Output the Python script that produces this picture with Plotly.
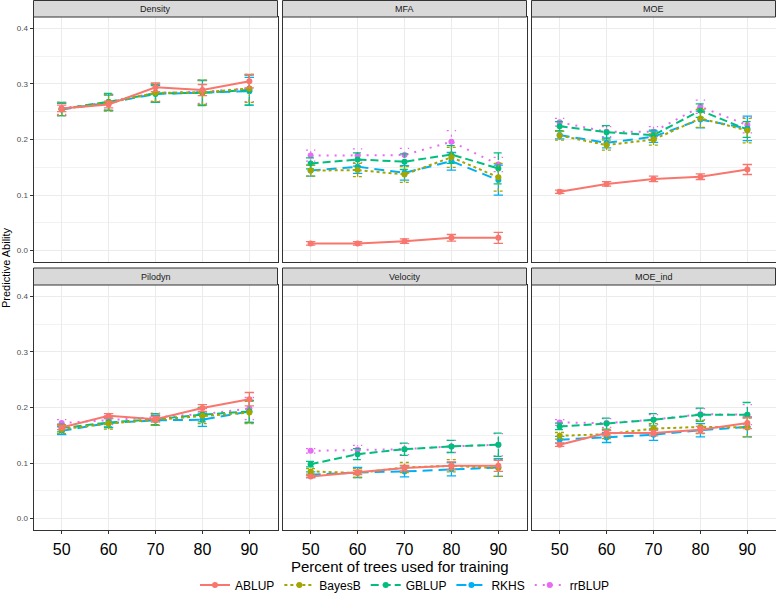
import plotly.graph_objects as go

# ---------------- data ----------------
traits = ["Density", "MFA", "MOE", "Pilodyn", "Velocity", "MOE_ind"]
train_pct = [50, 60, 70, 80, 90]
methods = ["ABLUP", "BayesB", "GBLUP", "RKHS", "rrBLUP"]

# mean predictive ability, one row per trait (order as in `traits`)
ABLUP_mean = [
    [0.256, 0.263, 0.294, 0.289, 0.305],
    [0.013, 0.013, 0.017, 0.023, 0.023],
    [0.106, 0.120, 0.129, 0.133, 0.146],
    [0.164, 0.185, 0.179, 0.199, 0.215],
    [0.076, 0.083, 0.091, 0.095, 0.095],
    [0.133, 0.154, 0.154, 0.160, 0.172],
]
BayesB_mean = [
    [0.255, 0.266, 0.284, 0.285, 0.292],
    [0.144, 0.145, 0.137, 0.168, 0.132],
    [0.207, 0.190, 0.200, 0.238, 0.216],
    [0.161, 0.171, 0.178, 0.185, 0.191],
    [0.085, 0.082, 0.092, 0.095, 0.091],
    [0.149, 0.152, 0.162, 0.165, 0.164],
]
GBLUP_mean = [
    [0.255, 0.268, 0.283, 0.284, 0.289],
    [0.157, 0.164, 0.160, 0.173, 0.148],
    [0.224, 0.213, 0.208, 0.252, 0.218],
    [0.163, 0.173, 0.179, 0.187, 0.193],
    [0.098, 0.116, 0.125, 0.130, 0.133],
    [0.166, 0.171, 0.178, 0.187, 0.187],
]
RKHS_mean = [
    [0.254, 0.266, 0.282, 0.284, 0.287],
    [0.144, 0.151, 0.140, 0.161, 0.127],
    [0.208, 0.194, 0.205, 0.236, 0.220],
    [0.158, 0.172, 0.177, 0.178, 0.193],
    [0.079, 0.083, 0.085, 0.089, 0.092],
    [0.142, 0.146, 0.151, 0.159, 0.165],
]
rrBLUP_mean = [
    [0.256, 0.267, 0.284, 0.286, 0.292],
    [0.171, 0.171, 0.172, 0.196, 0.155],
    [0.231, 0.214, 0.214, 0.259, 0.226],
    [0.172, 0.177, 0.182, 0.188, 0.198],
    [0.122, 0.124, 0.125, 0.130, 0.133],
    [0.173, 0.172, 0.178, 0.188, 0.187],
]

# error half-widths (same layout)
ABLUP_err = [
    [0.006, 0.006, 0.008, 0.010, 0.012],
    [0.003, 0.003, 0.004, 0.006, 0.010],
    [0.003, 0.004, 0.005, 0.005, 0.009],
    [0.004, 0.004, 0.005, 0.006, 0.012],
    [0.002, 0.004, 0.005, 0.007, 0.010],
    [0.003, 0.005, 0.005, 0.006, 0.010],
]
BayesB_err = [
    [0.012, 0.015, 0.016, 0.022, 0.025],
    [0.010, 0.012, 0.014, 0.018, 0.025],
    [0.008, 0.009, 0.010, 0.016, 0.022],
    [0.008, 0.010, 0.010, 0.014, 0.020],
    [0.005, 0.008, 0.009, 0.011, 0.015],
    [0.006, 0.008, 0.009, 0.012, 0.017],
]
GBLUP_err = [
    [0.012, 0.015, 0.016, 0.023, 0.027],
    [0.010, 0.012, 0.014, 0.016, 0.028],
    [0.008, 0.012, 0.009, 0.012, 0.014],
    [0.007, 0.008, 0.010, 0.013, 0.020],
    [0.005, 0.010, 0.011, 0.011, 0.021],
    [0.006, 0.010, 0.011, 0.012, 0.022],
]
RKHS_err = [
    [0.011, 0.014, 0.015, 0.022, 0.025],
    [0.010, 0.012, 0.013, 0.016, 0.027],
    [0.007, 0.009, 0.010, 0.015, 0.022],
    [0.007, 0.008, 0.009, 0.012, 0.020],
    [0.005, 0.009, 0.010, 0.012, 0.016],
    [0.006, 0.009, 0.010, 0.012, 0.018],
]
rrBLUP_err = [
    [0.011, 0.014, 0.015, 0.021, 0.024],
    [0.010, 0.012, 0.012, 0.020, 0.013],
    [0.007, 0.009, 0.009, 0.012, 0.014],
    [0.006, 0.008, 0.008, 0.010, 0.020],
    [0.004, 0.008, 0.010, 0.011, 0.020],
    [0.005, 0.008, 0.009, 0.010, 0.018],
]

y_ticks = [0.0, 0.1, 0.2, 0.3, 0.4]
y_tick_labels = ["0.0", "0.1", "0.2", "0.3", "0.4"]
x_tick_labels = ["50", "60", "70", "80", "90"]

# ---------------- style ----------------
means = {"ABLUP": ABLUP_mean, "BayesB": BayesB_mean, "GBLUP": GBLUP_mean,
         "RKHS": RKHS_mean, "rrBLUP": rrBLUP_mean}
errs = {"ABLUP": ABLUP_err, "BayesB": BayesB_err, "GBLUP": GBLUP_err,
        "RKHS": RKHS_err, "rrBLUP": rrBLUP_err}
colors = {"ABLUP": "#F8766D", "BayesB": "#A3A500", "GBLUP": "#00BF7D",
          "RKHS": "#00B0F6", "rrBLUP": "#E76BF3"}
dashes = {"ABLUP": "solid", "BayesB": "3px,3px", "GBLUP": "8px,4px",
          "RKHS": "10px,6px", "rrBLUP": "2px,6px"}
FONT = "Liberation Sans, Arial, Helvetica, sans-serif"

W, H = 776, 595
cols_px = [(33.5, 277.5), (282.5, 526.5), (531.5, 775.5)]
rows_px = [(17.0, 262.0), (285.0, 530.0)]
strips_px = [(0.5, 17.0), (268.0, 285.0)]
XR = [44, 96]
YR = [-0.0205, 0.4205]
CAP = 1.0  # half cap width in x data units

fig = go.Figure()
layout_axes = {}
shapes = []
annotations = []

for i, trait in enumerate(traits):
    r, c = divmod(i, 3)
    idx = i + 1
    xa = "x" if idx == 1 else f"x{idx}"
    ya = "y" if idx == 1 else f"y{idx}"
    xkey = "xaxis" if idx == 1 else f"xaxis{idx}"
    ykey = "yaxis" if idx == 1 else f"yaxis{idx}"
    x0, x1 = cols_px[c]
    t0, t1 = rows_px[r]
    layout_axes[xkey] = dict(
        domain=[x0 / W, x1 / W], range=XR, anchor=ya,
        tickvals=train_pct, ticktext=x_tick_labels,
        showticklabels=(r == 1), ticklabelstandoff=2,
        ticks="outside" if r == 1 else "", ticklen=3, tickcolor="#333333", tickwidth=1,
        tickfont=dict(size=16, color="#000000", family=FONT),
        showgrid=True, gridcolor="#EBEBEB", gridwidth=1,
        showline=True, mirror=True, linecolor="#333333", linewidth=1,
        zeroline=False, fixedrange=True, automargin=False,
    )
    layout_axes[ykey] = dict(
        domain=[1 - t1 / H, 1 - t0 / H], range=YR, anchor=xa,
        tickvals=y_ticks, ticktext=y_tick_labels,
        showticklabels=(c == 0),
        ticks="outside" if c == 0 else "", ticklen=3, tickcolor="#333333", tickwidth=1,
        tickfont=dict(size=8, color="#4D4D4D", family=FONT),
        showgrid=True, gridcolor="#EBEBEB", gridwidth=1,
        minor=dict(tickvals=[0.05, 0.15, 0.25, 0.35], showgrid=True,
                   gridcolor="#F2F2F2", gridwidth=0.6, ticks=""),
        showline=True, mirror=True, linecolor="#333333", linewidth=1,
        zeroline=False, fixedrange=True, automargin=False,
    )
    s0, s1 = strips_px[r]
    shapes.append(dict(type="rect", xref="paper", yref="paper",
                       x0=x0 / W, x1=x1 / W, y0=1 - s1 / H, y1=1 - s0 / H,
                       fillcolor="#D9D9D9", line=dict(color="#333333", width=1)))
    annotations.append(dict(text=trait, xref="paper", yref="paper",
                            x=(x0 + x1) / 2 / W, y=1 - (s0 + s1) / 2 / H,
                            xanchor="center", yanchor="middle", showarrow=False,
                            font=dict(size=9, color="#1A1A1A", family=FONT)))

    for m in reversed(methods):
        mv = means[m][i]
        ev = errs[m][i]
        # error bars (dashed like the lines)
        ex, ey = [], []
        for xv, yv, e in zip(train_pct, mv, ev):
            ex += [xv, xv, None, xv - CAP, xv + CAP, None, xv - CAP, xv + CAP, None]
            ey += [yv - e, yv + e, None, yv - e, yv - e, None, yv + e, yv + e, None]
        fig.add_trace(go.Scatter(
            x=ex, y=ey, xaxis=xa, yaxis=ya, mode="lines",
            line=dict(color=colors[m], width=1.3, dash=dashes[m]),
            showlegend=False, hoverinfo="skip"))
        fig.add_trace(go.Scatter(
            x=train_pct, y=mv, xaxis=xa, yaxis=ya, mode="lines+markers",
            name=m, legendgroup=m, showlegend=(i == 0),
            legendrank=methods.index(m) + 1,
            line=dict(color=colors[m], width=2, dash=dashes[m]),
            marker=dict(color=colors[m], size=6)))

annotations.append(dict(text="Percent of trees used for training", xref="paper", yref="paper",
                        x=400 / W, y=1 - 566 / H, xanchor="center", yanchor="middle",
                        showarrow=False, font=dict(size=15, color="#000000", family=FONT)))
annotations.append(dict(text="Predictive Ability", xref="paper", yref="paper",
                        x=6 / W, y=1 - 268 / H, xanchor="center", yanchor="middle",
                        textangle=-90, showarrow=False, borderpad=0,
                        font=dict(size=11, color="#000000", family=FONT)))

fig.update_layout(
    width=W, height=H,
    margin=dict(l=0, r=0, t=0, b=0, autoexpand=False),
    paper_bgcolor="white", plot_bgcolor="white",
    font=dict(family=FONT),
    shapes=shapes, annotations=annotations,
    legend=dict(orientation="h", x=405 / W, xanchor="center",
                y=1 - 585 / H, yanchor="middle",
                font=dict(size=12, color="#000000", family=FONT),
                itemwidth=30, entrywidth=0, tracegroupgap=0,
                bgcolor="rgba(0,0,0,0)"),
    **layout_axes,
)

fig.write_html(
    "out.html",
    config={"displayModeBar": False},
    post_script="document.body.style.margin='0';document.body.style.padding='0';",
)
